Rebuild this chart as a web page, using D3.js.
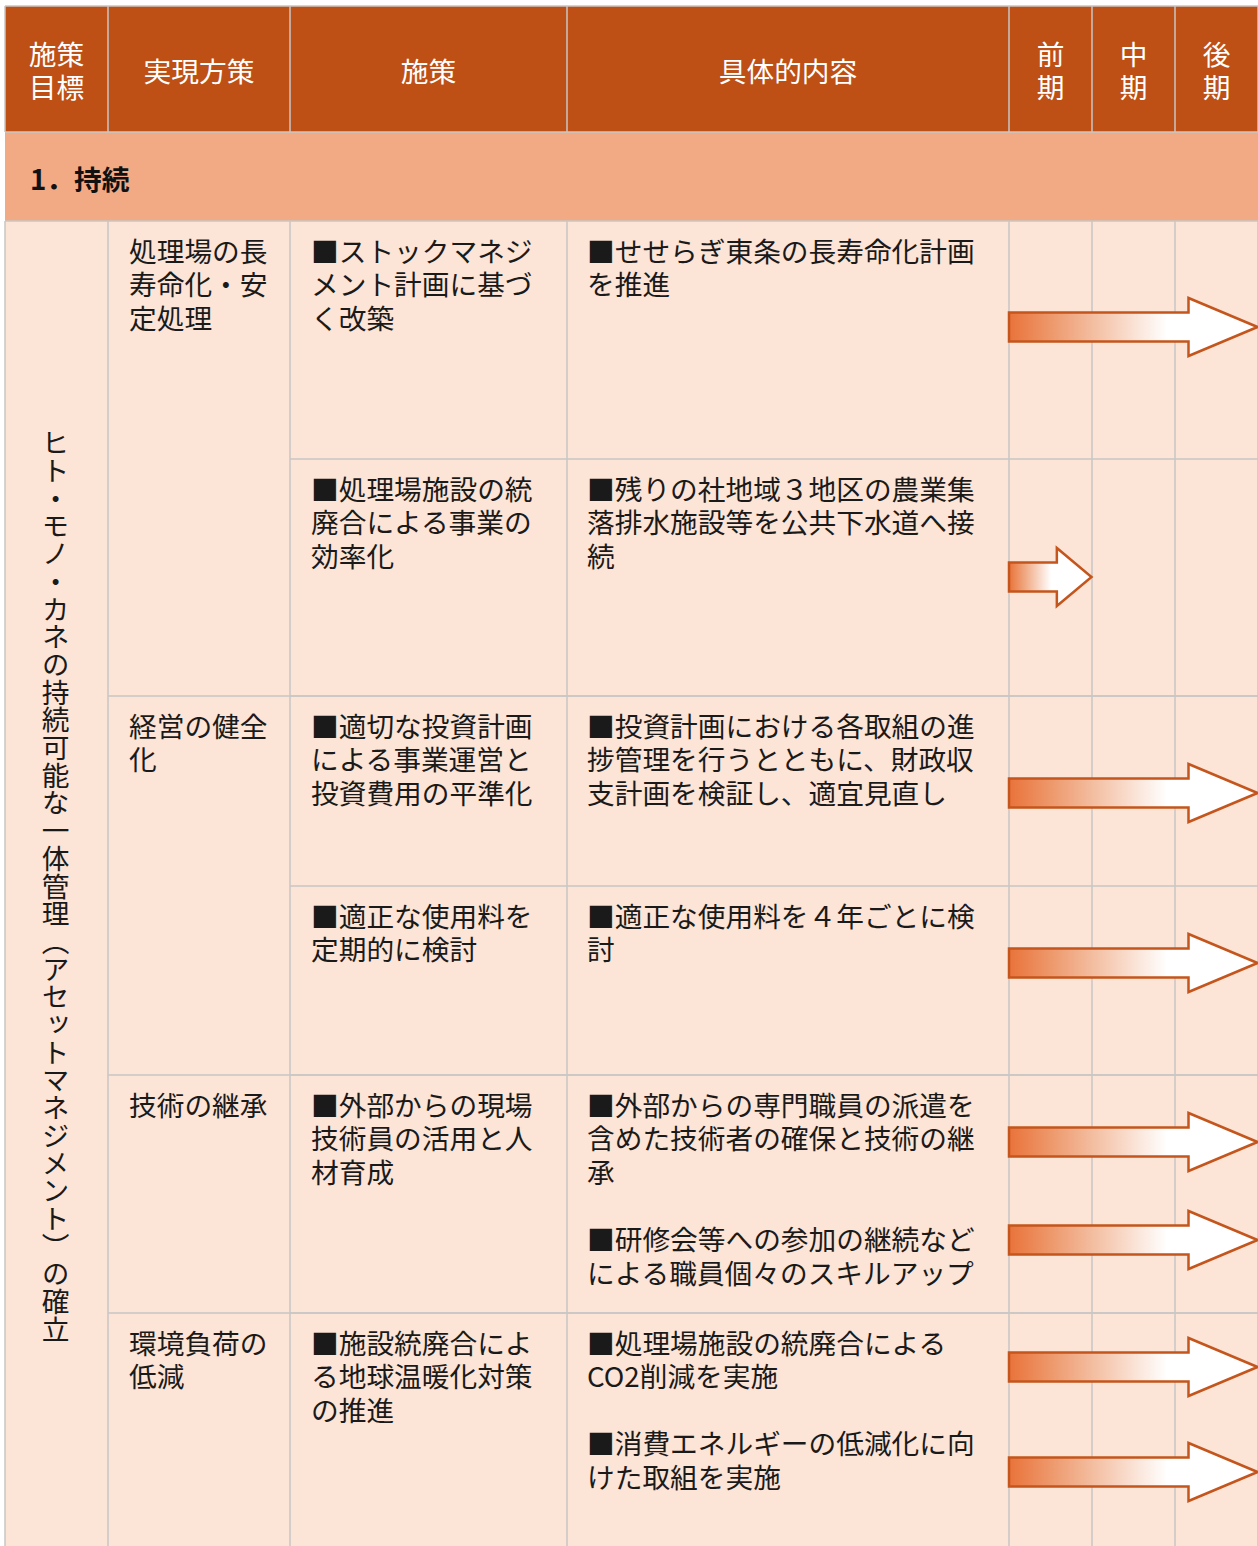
<!DOCTYPE html>
<html><head><meta charset="utf-8">
<script src="https://cdn.jsdelivr.net/npm/d3@7"></script>
<style>
body{margin:0;background:#fff}
text{font-family:"Noto Sans CJK JP","Noto Sans",sans-serif}
</style>
</head><body>
<svg id="c" width="1258" height="1546"></svg>
<script>
// ---------- data ----------
const headers = ["施策|目標", "実現方策", "施策", "具体的内容", "前|期", "中|期", "後|期"];
const periods = ["前期", "中期", "後期"];
const sectionTitle = "1．持続";
const goalText = "ヒト・モノ・カネの持続可能な一体管理（アセットマネジメント）の確立";
const strategies = ["処理場の長|寿命化・安|定処理", "経営の健全|化", "技術の継承", "環境負荷の|低減"];
const strategyRows = [[0, 2], [2, 4], [4, 5], [5, 6]];
const measures = [
  "■ストックマネジ|メント計画に基づ|く改築",
  "■処理場施設の統|廃合による事業の|効率化",
  "■適切な投資計画|による事業運営と|投資費用の平準化",
  "■適正な使用料を|定期的に検討",
  "■外部からの現場|技術員の活用と人|材育成",
  "■施設統廃合によ|る地球温暖化対策|の推進"
];
const contentRow = [0, 1, 2, 3, 4, 4, 5, 5];
const contentText = [
  "■せせらぎ東条の長寿命化計画|を推進",
  "■残りの社地域３地区の農業集|落排水施設等を公共下水道へ接|続",
  "■投資計画における各取組の進|捗管理を行うとともに、財政収|支計画を検証し、適宜見直し",
  "■適正な使用料を４年ごとに検|討",
  "■外部からの専門職員の派遣を|含めた技術者の確保と技術の継|承",
  "■研修会等への参加の継続など|による職員個々のスキルアップ",
  "■処理場施設の統廃合による|CO2削減を実施",
  "■消費エネルギーの低減化に向|けた取組を実施"
];
const contentFrom = ["前期", "前期", "前期", "前期", "前期", "前期", "前期", "前期"];
const contentTo   = ["後期", "前期", "後期", "後期", "後期", "後期", "後期", "後期"];

// ---------- layout ----------
const FS = 27.7, LH = 33.6;
const colEdges = [5, 108, 290, 567, 1009, 1092, 1175, 1258];
const rowEdges = [221, 459, 696, 886, 1075, 1313, 1546];
const arrowY = [327, 577, 793, 963, 1142, 1240, 1367, 1472];
const headTop = 6, headBottom = 132, sectBottom = 221;
const C = {head: "#BE4F15", sect: "#F2AA84", body: "#FCE4D6", grid: "#C9C6C4",
           arrowStroke: "#C4561D", arrowFill: "#E9733A"};

const x = d3.scaleLinear().domain(d3.range(colEdges.length)).range(colEdges);
const y = d3.scaleLinear().domain(d3.range(rowEdges.length)).range(rowEdges);
const px = d3.scaleBand().domain(periods).range([x(4), x(7)]);

const svg = d3.select("#c");
const defs = svg.append("defs");

// backgrounds
svg.append("rect").attr("x", x(0)).attr("y", headTop).attr("width", x(7) - x(0)).attr("height", headBottom - headTop).attr("fill", C.head);
svg.append("rect").attr("x", x(0)).attr("y", headBottom).attr("width", x(7) - x(0)).attr("height", sectBottom - headBottom).attr("fill", C.sect);
svg.append("rect").attr("x", x(0)).attr("y", sectBottom).attr("width", x(7) - x(0)).attr("height", y(6) - sectBottom).attr("fill", C.body);

// multi-line text block as one <text> with tspans
function block(lines, x0, y0, anchor, fill) {
  const t = svg.append("text").attr("x", x0).attr("y", y0)
    .attr("text-anchor", anchor).attr("font-size", FS).attr("fill", fill);
  lines.forEach((l, j) => {
    t.append("tspan").attr("x", x0).attr("dy", j === 0 ? "0.35em" : LH).text(l);
  });
  return t;
}

// header text
headers.forEach((h, i) => {
  const lines = h.split("|");
  const cx = (x(i) + x(i + 1)) / 2, cy = (headTop + headBottom) / 2 + 3;
  block(lines, cx, cy - (lines.length - 1) / 2 * LH, "middle", "#fff");
});

// section title
svg.append("text").attr("x", 30).attr("y", (headBottom + sectBottom) / 2 + 4).attr("dy", "0.35em")
  .attr("font-size", FS).attr("font-weight", 700).attr("fill", "#111").text(sectionTitle);

// grid
const g = svg.append("g").attr("stroke", C.grid).attr("stroke-width", 1.5).attr("fill", "none");
[headTop, headBottom, sectBottom].forEach(yy =>
  g.append("line").attr("x1", x(0)).attr("x2", x(7)).attr("y1", yy).attr("y2", yy));
colEdges.forEach(c => {
  g.append("line").attr("x1", c).attr("x2", c).attr("y1", headTop).attr("y2", headBottom);
  g.append("line").attr("x1", c).attr("x2", c).attr("y1", sectBottom).attr("y2", y(6));
});
strategyRows.forEach(([a, b]) => {
  if (b < 6) g.append("line").attr("x1", x(1)).attr("x2", x(7)).attr("y1", y(b)).attr("y2", y(b));
});
measures.forEach((m, i) => {
  if (i < 5) g.append("line").attr("x1", x(2)).attr("x2", x(7)).attr("y1", y(i + 1)).attr("y2", y(i + 1));
});

// goal vertical text
svg.append("text").attr("x", (x(0) + x(1)) / 2 - 1).attr("y", 429)
  .style("writing-mode", "vertical-rl").attr("font-size", FS).attr("fill", "#1a1a1a")
  .text(goalText);

const PAD = 21, FIRST = 31;
strategies.forEach((s, i) => block(s.split("|"), x(1) + PAD, y(strategyRows[i][0]) + FIRST, "start", "#1a1a1a"));
measures.forEach((m, i) => block(m.split("|"), x(2) + PAD, y(i) + FIRST, "start", "#1a1a1a"));

// contents, stacked within a row with a blank line between items
const rowOffset = {};
contentText.forEach((t, i) => {
  const r = contentRow[i];
  const lines = t.split("|");
  const off = rowOffset[r] || 0;
  block(lines, x(3) + PAD - 1, y(r) + FIRST + off * LH, "start", "#1a1a1a");
  rowOffset[r] = off + lines.length + 1;
});

// arrows
contentText.forEach((t, i) => {
  const x0 = px(contentFrom[i]), x1 = px(contentTo[i]) + px.bandwidth() - 0.5;
  const len = x1 - x0;
  const head = Math.min(69, len * 0.42);
  const bh = 14.5, hh = 29, cy = arrowY[i];
  const bodyEnd = x1 - head;
  const id = "grad" + i;
  const gr = defs.append("linearGradient").attr("id", id)
    .attr("gradientUnits", "userSpaceOnUse").attr("x1", x0).attr("x2", x0 + (bodyEnd - x0) * 0.88).attr("y1", 0).attr("y2", 0);
  gr.append("stop").attr("offset", 0).attr("stop-color", C.arrowFill);
  gr.append("stop").attr("offset", 0.35).attr("stop-color", "#EFA47C");
  gr.append("stop").attr("offset", 1).attr("stop-color", "#ffffff");
  const pts = [[x0, cy - bh], [bodyEnd, cy - bh], [bodyEnd, cy - hh], [x1, cy], [bodyEnd, cy + hh], [bodyEnd, cy + bh], [x0, cy + bh]];
  svg.append("path").attr("d", d3.line()(pts) + "Z")
    .attr("fill", `url(#${id})`).attr("stroke", C.arrowStroke).attr("stroke-width", 2.5)
    .attr("stroke-linejoin", "miter");
});
</script>
</body></html>
